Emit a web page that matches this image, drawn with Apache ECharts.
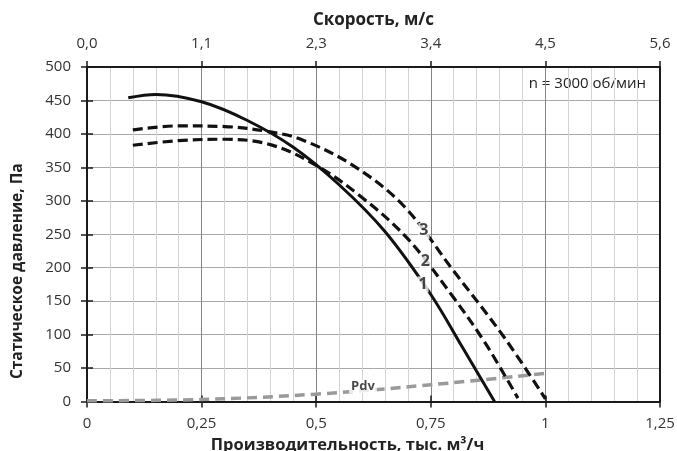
<!DOCTYPE html>
<html><head><meta charset="utf-8">
<script src="https://cdn.jsdelivr.net/npm/echarts@6/dist/echarts.min.js"></script>
<style>html,body{margin:0;padding:0;background:#fff}#c{width:677px;height:451px}</style>
</head><body><div id="c"></div>
<script>
// Flow axis (bottom) tick labels, тыс. м3/ч
const flowTicks = ['0', '0,25', '0,5', '0,75', '1', '1,25'];
// Velocity axis (top) tick labels, м/с
const speedTicks = ['0,0', '1,1', '2,3', '3,4', '4,5', '5,6'];
// Curve 1 (solid)
const curve1 = [[0.09,454],[0.15,459],[0.25,448],[0.35,420],[0.45,380],[0.55,324],[0.65,254],[0.75,160],[0.82,80],[0.889,0]];
// Curve 2 (dashed, middle)
const curve2 = [[0.10,383],[0.20,390],[0.30,392],[0.40,384],[0.50,353],[0.60,305],[0.70,243],[0.80,155],[0.87,86],[0.94,5]];
// Curve 3 (dashed, outer)
const curve3 = [[0.10,406],[0.20,412],[0.30,411],[0.40,403],[0.47,391],[0.58,353],[0.69,293],[0.80,195],[0.91,96],[1.0,4]];
// Dynamic pressure Pdv
const pdv = [[0,1],[0.25,3],[0.5,11],[0.75,25],[1.0,42]];
// Curve labels
const curveLabels = [[0.735,255,'3'],[0.738,210,'2'],[0.733,175,'1']];
const pdvLabel = [[0.602,22,'Pdv']];
const rpmText = 'n = 3000 об/мин';

const FONT = '"Open Sans", "DejaVu Sans", sans-serif';
const axisCol = '#1a1a1a';
const chart = echarts.init(document.getElementById('c'), null, {renderer: 'canvas'});

function fmtFlow(v){ const i = Math.round(v/0.25); return flowTicks[i] !== undefined ? flowTicks[i] : ''; }
function fmtSpeed(v){ const i = Math.round(v/0.25); return speedTicks[i] !== undefined ? speedTicks[i] : ''; }

const xBase = {type:'value', min:0, max:1.25, interval:0.25};
const tickStyle = {color:axisCol, width:1.5};
const SM = 0.35;
chart.setOption({
  animation:false,
  backgroundColor:'#fff',
  textStyle:{fontFamily:FONT},
  grid:{left:87, right:17, top:67, bottom:49.5, outerBoundsMode:'none', containLabel:false},
  xAxis:[
    {type:'value', min:0, max:1.25, interval:0.05, position:'bottom',
      axisLine:{show:false}, axisTick:{show:false}, axisLabel:{show:false},
      splitLine:{show:true, lineStyle:{color:'#d3d3d3', width:1}}, z:0},
    Object.assign({}, xBase, {
      position:'bottom',
      name:'Производительность, тыс. м³/ч', nameLocation:'middle', nameGap:31,
      nameTextStyle:{fontFamily:FONT, fontSize:16.5, fontWeight:'bold', color:'#222', padding:[0,52,0,0]},
      axisLine:{show:true, onZero:false, lineStyle:{color:axisCol, width:2}},
      axisTick:{show:true, length:6, lineStyle:tickStyle},
      axisLabel:{formatter:fmtFlow, fontFamily:FONT, fontSize:15, color:'#333', margin:15},
      splitLine:{show:true, lineStyle:{color:'#858585', width:1}}
    }),
    Object.assign({}, xBase, {
      position:'top',
      name:'Скорость, м/с', nameLocation:'middle', nameGap:38,
      nameTextStyle:{fontFamily:FONT, fontSize:17, fontWeight:'bold', color:'#222'},
      axisLine:{show:true, onZero:false, lineStyle:{color:axisCol, width:2}},
      axisTick:{show:true, length:6, lineStyle:tickStyle},
      axisLabel:{formatter:fmtSpeed, fontFamily:FONT, fontSize:15, color:'#333', margin:16},
      splitLine:{show:false}
    }),
    Object.assign({}, xBase, {
      position:'bottom', axisLine:{show:false}, axisLabel:{show:false}, splitLine:{show:false},
      axisTick:{show:true, inside:true, length:6, lineStyle:tickStyle}
    }),
    Object.assign({}, xBase, {
      position:'top', axisLine:{show:false}, axisLabel:{show:false}, splitLine:{show:false},
      axisTick:{show:true, inside:true, length:6, lineStyle:tickStyle}
    })
  ],
  yAxis:[
    {type:'value', min:0, max:500, interval:50, position:'left',
      name:'Статическое давление, Па', nameLocation:'middle', nameGap:61,
      nameTextStyle:{fontFamily:FONT, fontSize:15.5, fontWeight:'bold', color:'#222', padding:[0,74,0,0]},
      axisLine:{show:true, onZero:false, lineStyle:{color:axisCol, width:2}},
      axisTick:{show:true, length:6, lineStyle:tickStyle},
      axisLabel:{fontFamily:FONT, fontSize:15, color:'#333', margin:16},
      splitLine:{show:true, lineStyle:{color:'#a8a8a8', width:1}}
    },
    {type:'value', min:0, max:500, interval:50, position:'left',
      axisLine:{show:false}, axisLabel:{show:false}, splitLine:{show:false},
      axisTick:{show:true, inside:true, length:6, lineStyle:tickStyle}
    },
    {type:'value', min:0, max:500, interval:50, position:'right',
      axisLine:{show:true, onZero:false, lineStyle:{color:axisCol, width:2}},
      axisLabel:{show:false}, axisTick:{show:false}, splitLine:{show:false}
    }
  ],
  series:[
    {type:'line', name:'Pdv', xAxisIndex:1, data:pdv, smooth:SM, showSymbol:false, symbol:'none',
      lineStyle:{color:'#9a9a9a', width:3.5, type:[10,6]}, z:2},
    {type:'line', name:'1', xAxisIndex:1, data:curve1, smooth:SM, showSymbol:false, symbol:'none',
      lineStyle:{color:'#111', width:3}, z:3},
    {type:'line', name:'2', xAxisIndex:1, data:curve2, smooth:SM, showSymbol:false, symbol:'none',
      lineStyle:{color:'#111', width:3.2, type:[10,5]}, z:3},
    {type:'line', name:'3', xAxisIndex:1, data:curve3, smooth:SM, showSymbol:false, symbol:'none',
      lineStyle:{color:'#111', width:3.2, type:[10,5]}, z:3},
    {type:'scatter', xAxisIndex:1, data:curveLabels, symbolSize:0, z:5,
      label:{show:true, position:'inside', formatter:p=>p.data[2], fontFamily:FONT, fontSize:16, fontWeight:'bold', color:'#1a1a1a', backgroundColor:'#fff', padding:[0,1]}},
    {type:'scatter', xAxisIndex:1, data:pdvLabel, symbolSize:0, z:5,
      label:{show:true, position:'inside', formatter:p=>p.data[2], fontFamily:FONT, fontSize:13, fontWeight:'bold', color:'#1a1a1a', backgroundColor:'#fff', padding:[0,2]}}
  ],
  graphic:[
    {type:'text', right:31, top:76, style:{text:rpmText, font:'15px ' + FONT, fill:'#222'}}
  ]
});
</script>
</body></html>
